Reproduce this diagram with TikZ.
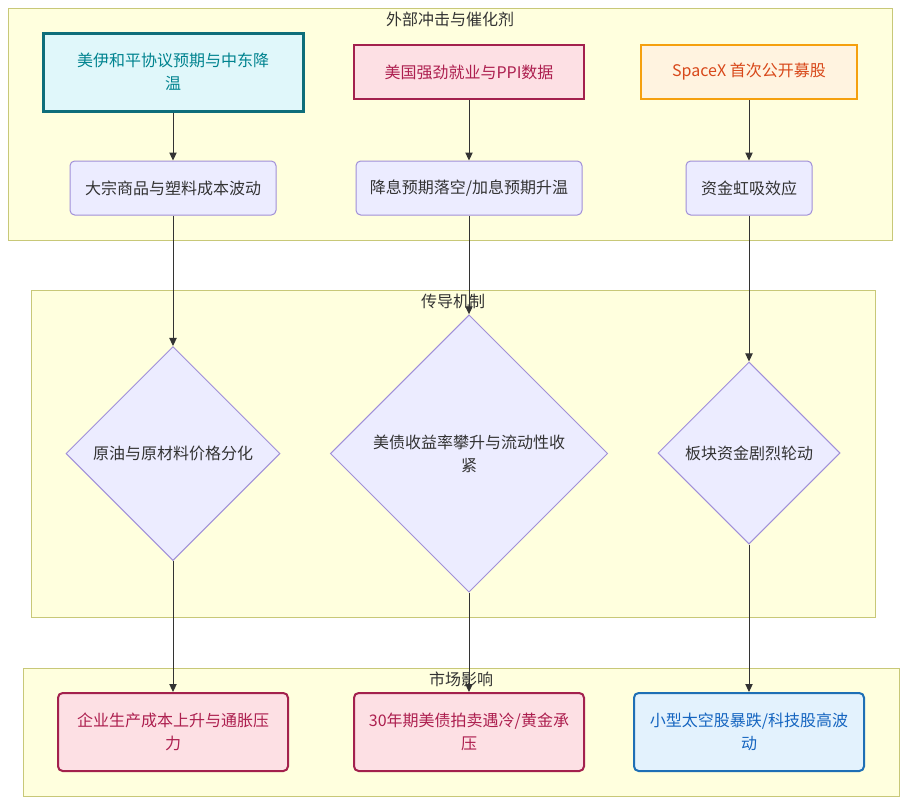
\documentclass[tikz,border=0pt]{standalone}
\usepackage{fontspec}
\setmainfont{Noto Sans CJK SC}
\usetikzlibrary{shapes.geometric,arrows.meta}
\definecolor{clfill}{HTML}{FFFFDE}
\definecolor{clline}{HTML}{C8C878}
\definecolor{defill}{HTML}{ECECFF}
\definecolor{deline}{HTML}{A08FD8}
\definecolor{txt}{HTML}{333333}
\definecolor{tealfill}{HTML}{E0F7FA}
\definecolor{tealline}{HTML}{0E6E7A}
\definecolor{tealtxt}{HTML}{00838F}
\definecolor{pinkfill}{HTML}{FDE0E4}
\definecolor{pinkline}{HTML}{A3214D}
\definecolor{pinktxt}{HTML}{AD1F4F}
\definecolor{orfill}{HTML}{FFF3E0}
\definecolor{orline}{HTML}{F5A00E}
\definecolor{ortxt}{HTML}{D8481A}
\definecolor{blfill}{HTML}{E3F2FD}
\definecolor{blline}{HTML}{1E6FB5}
\definecolor{bltxt}{HTML}{1565C0}
\tikzset{
  base/.style={font=\fontsize{12}{17.5}\selectfont, align=center, inner sep=0pt, text=txt},
  cluster/.style={draw=clline, fill=clfill, line width=0.75pt, inner sep=0pt},
  ctitle/.style={base},
  teal/.style={base, rectangle, draw=tealline, fill=tealfill, line width=2.25pt, text=tealtxt},
  pink/.style={base, rectangle, draw=pinkline, fill=pinkfill, line width=1.5pt, text=pinktxt},
  orng/.style={base, rectangle, draw=orline, fill=orfill, line width=1.5pt, text=ortxt},
  blue/.style={base, rectangle, draw=blline, fill=blfill, line width=1.5pt, text=bltxt},
  proc/.style={base, rectangle, rounded corners=3.5pt, draw=deline, fill=defill, line width=0.75pt, minimum height=40.5pt},
  dec/.style={base, diamond, aspect=1, draw=deline, fill=defill, line width=0.75pt},
  link/.style={draw=txt, line width=0.75pt, -{Triangle[length=6pt,width=5.5pt]}}
}
\begin{document}
\begin{tikzpicture}[x=0.75pt,y=-0.75pt]
\useasboundingbox (0,0) rectangle (907,804);
% clusters
\node[cluster, minimum width=663pt, minimum height=174pt] (g1) at (450,124) {};
\node[cluster, minimum width=633pt, minimum height=245.25pt] (g2) at (453,453.5) {};
\node[cluster, minimum width=657pt, minimum height=96pt] (g3) at (461,732) {};
\node[ctitle] (t1) at (450,19) {外部冲击与催化剂};
\node[ctitle] (t2) at (453,301) {传导机制};
\node[ctitle] (t3) at (461,679) {市场影响};
% top row
\node[teal, minimum width=195pt, minimum height=58.5pt] (a1) at (173,72) {美伊和平协议预期与中东降\\温};
\node[pink, minimum width=172.5pt, minimum height=40.5pt] (a2) at (469,72) {美国强劲就业与PPI数据};
\node[orng, minimum width=162pt, minimum height=40.5pt] (a3) at (749,72) {SpaceX 首次公开募股};
% second row
\node[proc, minimum width=154.5pt] (b1) at (173,188) {大宗商品与塑料成本波动};
\node[proc, minimum width=169.5pt] (b2) at (469,188) {降息预期落空/加息预期升温};
\node[proc, minimum width=94.5pt] (b3) at (749,188) {资金虹吸效应};
% diamonds
\node[dec, minimum width=160.5pt, minimum height=160.5pt] (d1) at (173,453.5) {原油与原材料价格分化};
\node[dec, minimum width=208pt, minimum height=208pt] (d2) at (469,453.5) {美债收益率攀升与流动性收\\紧};
\node[dec, minimum width=136.5pt, minimum height=136.5pt] (d3) at (749,453) {板块资金剧烈轮动};
% bottom row
\node[pink, rounded corners=3.5pt, minimum width=172.5pt, minimum height=58.5pt] (c1) at (173,732) {企业生产成本上升与通胀压\\力};
\node[pink, rounded corners=3.5pt, minimum width=172.5pt, minimum height=58.5pt] (c2) at (469,732) {30年期美债拍卖遇冷/黄金承\\压};
\node[blue, rounded corners=3.5pt, minimum width=172.5pt, minimum height=58.5pt] (c3) at (749,732) {小型太空股暴跌/科技股高波\\动};
% links
\draw[link] (a1) -- (b1);
\draw[link] (a2) -- (b2);
\draw[link] (a3) -- (b3);
\draw[link] (b1) -- (d1);
\draw[link] (b2) -- (d2);
\draw[link] (b3) -- (d3);
\draw[link] (d1) -- (c1);
\draw[link] (d2) -- (c2);
\draw[link] (d3) -- (c3);
\end{tikzpicture}
\end{document}
